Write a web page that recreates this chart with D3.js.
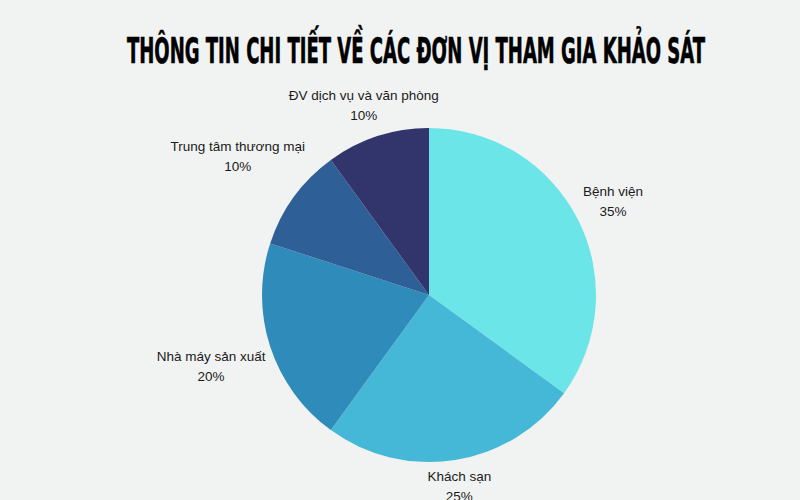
<!DOCTYPE html>
<html>
<head>
<meta charset="utf-8">
<script src="https://cdn.jsdelivr.net/npm/d3@7"></script>
<style>
  html, body { margin: 0; padding: 0; background: #f1f3f2; }
  svg { display: block; }
</style>
</head>
<body>
<div id="chart"></div>
<script>
// data
const categories = ["Bệnh viện", "Khách sạn", "Nhà máy sản xuất", "Trung tâm thương mại", "ĐV dịch vụ và văn phòng"];
const values = [35, 25, 20, 10, 10];
const sliceColors = ["#6be5e8", "#44b8d6", "#2e8bba", "#2e5f97", "#31356b"];
const titleText = "THÔNG TIN CHI TIẾT VỀ CÁC ĐƠN VỊ THAM GIA KHẢO SÁT";

const width = 800, height = 500;
const cx = 429, cy = 295, radius = 167;
const labelGap = 172;   // distance from centre to the nearest edge of a label block
const lineH = 20;
const labelTopMin = 88; // keep labels clear of the title

let svg = d3.select("#chart")
    .append("svg")
    .attr("width", width)
    .attr("height", height);

svg.append("rect")
    .attr("width", width)
    .attr("height", height)
    .attr("fill", "#f1f3f2");

// title
svg.append("text")
    .attr("x", 416)
    .attr("y", 63)
    .attr("text-anchor", "middle")
    .attr("font-family", "'DejaVu Sans Condensed', 'Liberation Sans Narrow', sans-serif")
    .attr("font-weight", "bold")
    .attr("font-size", 35)
    .attr("textLength", 578)
    .attr("lengthAdjust", "spacingAndGlyphs")
    .attr("fill", "#000")
    .attr("stroke", "#000")
    .attr("stroke-width", 0.6)
    .text(titleText);

let data = categories.map((c, i) => ({name: c, value: values[i], color: sliceColors[i]}));

let pie = d3.pie()
    .sort(null)
    .value(d => d.value);

let arc = d3.arc()
    .innerRadius(0)
    .outerRadius(radius);

let arcs = pie(data);
let total = d3.sum(values);

let g = svg.append("g")
    .attr("transform", `translate(${cx},${cy})`);

g.selectAll("path")
    .data(arcs)
    .enter().append("path")
    .attr("d", arc)
    .attr("fill", d => d.data.color);

// labels: two lines, placed so the block sits just outside the pie
let labels = g.selectAll("g.label")
    .data(arcs)
    .enter().append("g")
    .attr("class", "label");

labels.each(function(d) {
    let lab = d3.select(this);
    let t = lab.append("text")
        .attr("text-anchor", "middle")
        .attr("font-family", "'Liberation Sans', Arial, sans-serif")
        .attr("font-size", 13.5)
        .attr("fill", "#1a1a1a");
    t.append("tspan").attr("x", 0).attr("y", -lineH / 2 + 5).text(d.data.name);
    t.append("tspan").attr("x", 0).attr("y", lineH / 2 + 5)
        .text(Math.round(d.data.value / total * 100) + "%");

    let w = t.node().getBBox().width;
    let h = 34;
    let mid = (d.startAngle + d.endAngle) / 2;
    let s = Math.sin(mid), c = Math.cos(mid);
    let r = labelGap + (w / 2) * Math.abs(s) + (h / 2) * Math.abs(c);
    let x = r * s, y = -r * c;
    // nudge down if the block would crowd the title
    if (cy + y - h / 2 < labelTopMin) y = labelTopMin + h / 2 - cy;
    lab.attr("transform", `translate(${x},${y})`);
});
</script>
</body>
</html>
